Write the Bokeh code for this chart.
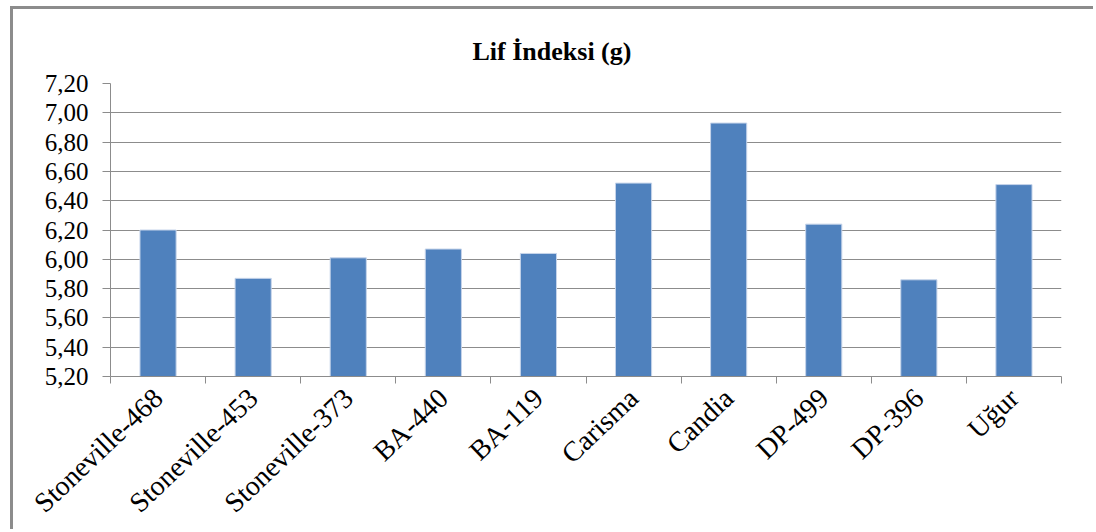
from bokeh.plotting import figure
from bokeh.models import (Range1d, LinearAxis, FixedTicker, ColumnDataSource)
from bokeh.embed import file_html
from bokeh.resources import INLINE

categories = ["Stoneville-468", "Stoneville-453", "Stoneville-373", "BA-440", "BA-119",
              "Carisma", "Candia", "DP-499", "DP-396", "Uğur"]
values = [6.20, 5.87, 6.01, 6.07, 6.04, 6.52, 6.93, 6.24, 5.86, 6.51]
y_ticks = [5.2, 5.4, 5.6, 5.8, 6.0, 6.2, 6.4, 6.6, 6.8, 7.0, 7.2]
y_tick_labels = ["5,20", "5,40", "5,60", "5,80", "6,00", "6,20", "6,40", "6,60", "6,80", "7,00", "7,20"]
title_text = "Lif İndeksi (g)"

FONT = "'Liberation Serif', 'Times New Roman', serif"
GRAY = "#8c8c8c"
BAR = "#4F81BD"

n = len(categories)
centers = [i + 0.5 for i in range(n)]
src = ColumnDataSource(dict(x=centers, val=values))

# canvas offset: 13 px from the left, 9 px from the top
p = figure(width=1083, height=523, x_range=Range1d(0, n),
           y_range=Range1d(5.2, 7.2), output_backend="svg", toolbar_location=None,
           x_axis_location=None, title=title_text,
           min_border_left=97, min_border_right=35, min_border_top=74, min_border_bottom=155)
p.margin = (9, 0, 0, 13)
p.styles = {"box-shadow": f"-3px -3px 0px 0px {GRAY}"}

p.title.text_font = FONT
p.title.text_font_size = "26px"
p.title.text_font_style = "bold"
p.title.align = "left"
p.title.offset = 362
p.title.standoff = 36
p.title.text_color = "black"

p.vbar(x="x", top="val", bottom=5.2, width=0.38, source=src,
       fill_color=BAR, line_color="#c6d4ea", line_width=1)

# y axis
p.yaxis.ticker = FixedTicker(ticks=y_ticks)
p.yaxis.major_label_overrides = {t: l for t, l in zip(y_ticks, y_tick_labels)}
p.yaxis.major_label_text_font = FONT
p.yaxis.major_label_text_font_size = "25px"
p.yaxis.major_label_text_color = "black"
p.yaxis.major_tick_in = 0
p.yaxis.major_tick_out = 8
p.yaxis.minor_tick_line_color = None
p.yaxis.axis_line_color = GRAY
p.yaxis.major_tick_line_color = GRAY
p.yaxis.major_label_standoff = 14

p.ygrid.ticker = FixedTicker(ticks=y_ticks)
p.ygrid.grid_line_color = GRAY
p.xgrid.grid_line_color = None
p.outline_line_color = None

# separator ticks between categories
sep_axis = LinearAxis(ticker=FixedTicker(ticks=list(range(n + 1))),
                      major_label_text_font_size="1px", major_label_text_color=None,
                      major_tick_in=0, major_tick_out=7,
                      minor_tick_line_color=None, axis_line_color=GRAY, major_tick_line_color=GRAY,
                      major_label_standoff=0)
p.add_layout(sep_axis, "below")

cat_axis = LinearAxis(ticker=FixedTicker(ticks=centers),
                      major_label_overrides={c: name for c, name in zip(centers, categories)},
                      axis_line_color=None, major_tick_line_color=None, minor_tick_line_color=None,
                      major_label_orientation=0.76, major_label_text_font=FONT,
                      major_label_text_font_size="28px", major_label_text_color="black",
                      major_label_standoff=4)
p.add_layout(cat_axis, "below")

open("out.html", "w").write(file_html(p, INLINE))
